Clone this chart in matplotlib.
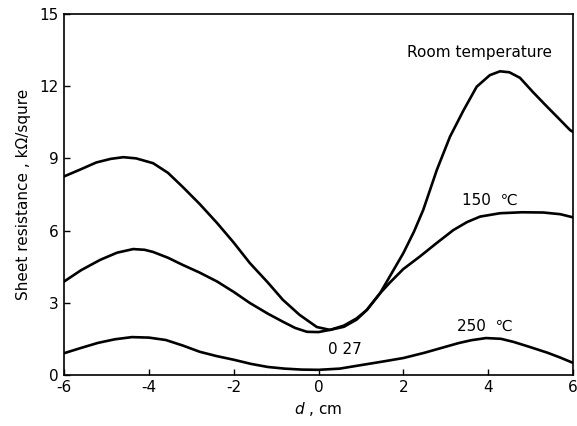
import matplotlib
matplotlib.use("Agg")
import matplotlib.pyplot as plt

plt.rcParams['font.family'] = ['DejaVu Sans']
plt.rcParams['axes.unicode_minus'] = False

# readings: d (cm) and sheet resistance (kOhm/square)
d_room = [-6.0, -5.6, -5.24, -4.9, -4.6, -4.3, -3.9, -3.55, -3.2, -2.8, -2.39, -2.0, -1.62, -1.2,
          -0.84, -0.45, -0.04, 0.27, 0.6, 0.9, 1.14, 1.45, 1.7, 2.0, 2.25, 2.47, 2.79, 3.1, 3.42,
          3.73, 4.04, 4.28, 4.5, 4.75, 5.06, 5.35, 5.63, 5.93, 6.0]
r_room = [8.25, 8.55, 8.83, 8.98, 9.05, 9.0, 8.8, 8.4, 7.81, 7.1, 6.31, 5.5, 4.65, 3.85,
          3.12, 2.5, 1.99, 1.87, 2.0, 2.3, 2.7, 3.39, 4.15, 5.06, 5.95, 6.86, 8.52, 9.9, 11.0,
          11.98, 12.46, 12.62, 12.58, 12.35, 11.75, 11.22, 10.72, 10.18, 10.1]

d_150 = [-6.0, -5.6, -5.15, -4.75, -4.37, -4.1, -3.9, -3.55, -3.2, -2.8, -2.39, -2.0, -1.62, -1.2,
         -0.84, -0.55, -0.27, 0.0, 0.27, 0.6, 0.9, 1.14, 1.45, 1.69, 2.0, 2.39, 2.8, 3.18, 3.5,
         3.81, 4.28, 4.8, 5.3, 5.7, 6.0]
r_150 = [3.88, 4.35, 4.78, 5.08, 5.23, 5.2, 5.11, 4.87, 4.57, 4.25, 3.88, 3.45, 2.99, 2.55,
         2.21, 1.95, 1.79, 1.78, 1.87, 2.05, 2.35, 2.7, 3.39, 3.85, 4.4, 4.92, 5.5, 6.02, 6.35,
         6.58, 6.72, 6.76, 6.75, 6.68, 6.55]

d_250 = [-6.0, -5.6, -5.2, -4.8, -4.4, -4.0, -3.6, -3.2, -2.8, -2.4, -2.0, -1.6, -1.2, -0.8, -0.4,
         0.0, 0.5, 1.05, 1.5, 2.0, 2.5, 3.0, 3.3, 3.6, 3.95, 4.3, 4.6, 5.0, 5.4, 5.7, 6.0]
r_250 = [0.9, 1.12, 1.33, 1.48, 1.57, 1.55, 1.45, 1.22, 0.96, 0.78, 0.63, 0.46, 0.33, 0.26, 0.22,
         0.21, 0.26, 0.42, 0.55, 0.7, 0.92, 1.17, 1.32, 1.44, 1.53, 1.5, 1.37, 1.15, 0.92, 0.72, 0.5]

xticks = [-6, -4, -2, 0, 2, 4, 6]
yticks = [0, 3, 6, 9, 12, 15]

fig = plt.figure(figsize=(5.77, 4.26), dpi=100)
ax = fig.add_axes([0.111, 0.12, 0.882, 0.847])

for d, r in [(d_room, r_room), (d_150, r_150), (d_250, r_250)]:
    ax.plot(d, r, color='black', lw=1.9, solid_capstyle='round', solid_joinstyle='round')

ax.set_xlim(-6, 6)
ax.set_ylim(0, 15)
ax.set_xticks(xticks)
ax.set_yticks(yticks)
ax.tick_params(direction='in', length=4, width=1, labelsize=11, pad=4)
for s in ax.spines.values():
    s.set_linewidth(1.2)

ax.text(3.8, 13.4, 'Room temperature', fontsize=11, ha='center', va='center')
ax.text(4.05, 7.25, '150  ℃', fontsize=11, ha='center', va='center')
ax.text(3.93, 2.0, '250  ℃', fontsize=11, ha='center', va='center')
ax.text(0.62, 1.05, '0 27', fontsize=11, ha='center', va='center')

ax.set_xlabel(r'$\it{d}$ , cm', fontsize=11, labelpad=3)
ax.set_ylabel('Sheet resistance , kΩ/squre', fontsize=11, labelpad=6)

fig.savefig('out.png', dpi=100)
